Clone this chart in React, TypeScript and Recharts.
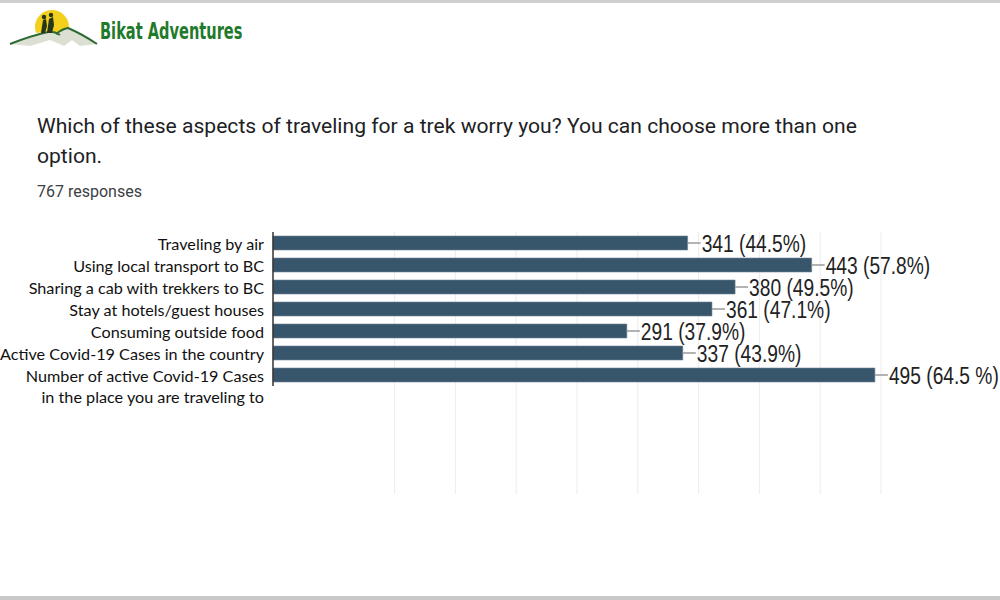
import React from 'react';
import { BarChart, Bar, XAxis, YAxis, CartesianGrid, LabelList } from 'recharts';

const categories = [
  'Traveling by air',
  'Using local transport to BC',
  'Sharing a cab with trekkers to BC',
  'Stay at hotels/guest houses',
  'Consuming outside food',
  'Active Covid-19 Cases in the country',
  'Number of active Covid-19 Cases\nin the place you are traveling to',
];
const counts = [341, 443, 380, 361, 291, 337, 495];
const valueLabels = [
  '341 (44.5%)',
  '443 (57.8%)',
  '380 (49.5%)',
  '361 (47.1%)',
  '291 (37.9%)',
  '337 (43.9%)',
  '495 (64.5 %)',
];
const xTicks = [0, 100, 150, 200, 250, 300, 350, 400, 450, 500];

const title1 = 'Which of these aspects of traveling for a trek worry you? You can choose more than one';
const title2 = 'option.';
const responses = '767 responses';
const brand = 'Bikat Adventures';

const data = categories.map((c, i) => ({ name: c, value: counts[i], label: valueLabels[i] }));

const YTick = (props: any) => {
  const { x, y, payload } = props;
  const lines = String(payload.value).split('\n');
  return (
    <g>
      {lines.map((l: string, i: number) => (
        <text
          key={i}
          x={x - 1}
          y={y + i * 21}
          textAnchor="end"
          dominantBaseline="central"
          fontFamily="Lato, 'Open Sans', sans-serif"
          fontSize={16.2}
          fill="#111"
        >
          {l}
        </text>
      ))}
    </g>
  );
};

const ValueLabel = (props: any) => {
  const { x, y, width, height, index } = props;
  const ex = x + width;
  const cy = y + height / 2;
  return (
    <g>
      <line x1={ex} y1={cy} x2={ex + 13} y2={cy} stroke="#9a9a9a" strokeWidth={1.5} />
      <text
        transform={`translate(${ex + 14},${cy + 1}) scale(0.835,1)`}
        x={0}
        y={0}
        dominantBaseline="central"
        fontFamily="'Liberation Sans', Arial, sans-serif"
        fontSize={23}
        fill="#222"
      >
        {valueLabels[index]}
      </text>
    </g>
  );
};

const GridLine = (props: any) => {
  const { x1, x2, y1, y2, index } = props;
  if (index === 0) return <g />;
  return <line x1={x1} x2={x2} y1={y1} y2={y2 + 108} stroke="#ececec" strokeWidth={1} />;
};

const Logo = () => (
  <svg width={260} height={55} style={{ position: 'absolute', left: 0, top: 0 }}>
    <defs>
      <clipPath id="sunclip">
        <path d="M0 0 H100 V34 Q75 26 67 29 Q62 31 58 34 Q52 30 48 31 Q30 34 0 40 Z" />
      </clipPath>
    </defs>
    <circle cx={52} cy={27} r={17} fill="#f2d01c" clipPath="url(#sunclip)" />
    <path d="M10 44 Q30 36 48 32 Q54 31 58 34 Q64 29 68 28 Q82 34 97 44 L80 46 L72 40 L64 46 L50 40 L30 46 Z" fill="#dce0d2" />
    <path d="M10 44 Q30 36 48 32 Q54 31 60 35" fill="none" stroke="#2e6b34" strokeWidth={2} />
    <path d="M56 34 Q62 29 68 28 Q82 34 97 44" fill="none" stroke="#2e6b34" strokeWidth={2} />
    <path d="M41 33 L43 20 L46 19 L47 26 L45 33 Z" fill="#26361b" />
    <path d="M47 33 L49 19 L53 17 L54 25 L52 33 Z" fill="#26361b" />
    <circle cx={44} cy={17} r={2.2} fill="#26361b" />
    <circle cx={51} cy={15} r={2.2} fill="#26361b" />
    <text
      transform="translate(100,39) scale(0.635,1)"
      x={0}
      y={0}
      fontFamily="'DejaVu Sans', 'Liberation Sans', sans-serif"
      fontWeight={700}
      fontSize={23}
      fill="#1f7a2b"
    >
      {brand}
    </text>
  </svg>
);

export default function App() {
  return (
    <div
      style={{
        position: 'absolute',
        left: 0,
        top: 0,
        width: 1000,
        height: 600,
        background: '#fff',
        overflow: 'hidden',
      }}
    >
      <div style={{ position: 'absolute', left: 0, top: 0, width: 1000, height: 3, background: '#cfcfcf' }} />
      <div style={{ position: 'absolute', left: 0, top: 596, width: 1000, height: 4, background: '#c8c8c8' }} />
      <Logo />
      <div
        style={{
          position: 'absolute',
          left: 37,
          top: 111,
          fontFamily: 'Roboto, sans-serif',
          fontSize: 21.1,
          lineHeight: '30px',
          color: '#202124',
          whiteSpace: 'nowrap',
        }}
      >
        <div>{title1}</div>
        <div>{title2}</div>
      </div>
      <div
        style={{
          position: 'absolute',
          left: 37,
          top: 182,
          fontFamily: 'Roboto, sans-serif',
          fontSize: 16,
          color: '#3c4043',
          whiteSpace: 'nowrap',
        }}
      >
        {responses}
      </div>
      <div style={{ position: 'absolute', left: 0, top: 225 }}>
        <BarChart
          width={1000}
          height={280}
          data={data}
          layout="vertical"
          margin={{ top: 7, right: 119, bottom: 119, left: 0 }}
        >
          <CartesianGrid horizontal={false} vertical={GridLine as any} />
          <XAxis type="number" dataKey="value" domain={[0, 500]} ticks={xTicks} hide />
          <YAxis
            type="category"
            dataKey="name"
            width={273}
            axisLine={{ stroke: '#333', strokeWidth: 1.5 }}
            tickLine={false}
            tick={<YTick />}
            interval={0}
          />
          <Bar dataKey="value" barSize={14} fill="#38566b" stroke="#6e8595" strokeWidth={0.6} isAnimationActive={false}>
            <LabelList dataKey="label" content={<ValueLabel />} />
          </Bar>
        </BarChart>
      </div>
    </div>
  );
}
